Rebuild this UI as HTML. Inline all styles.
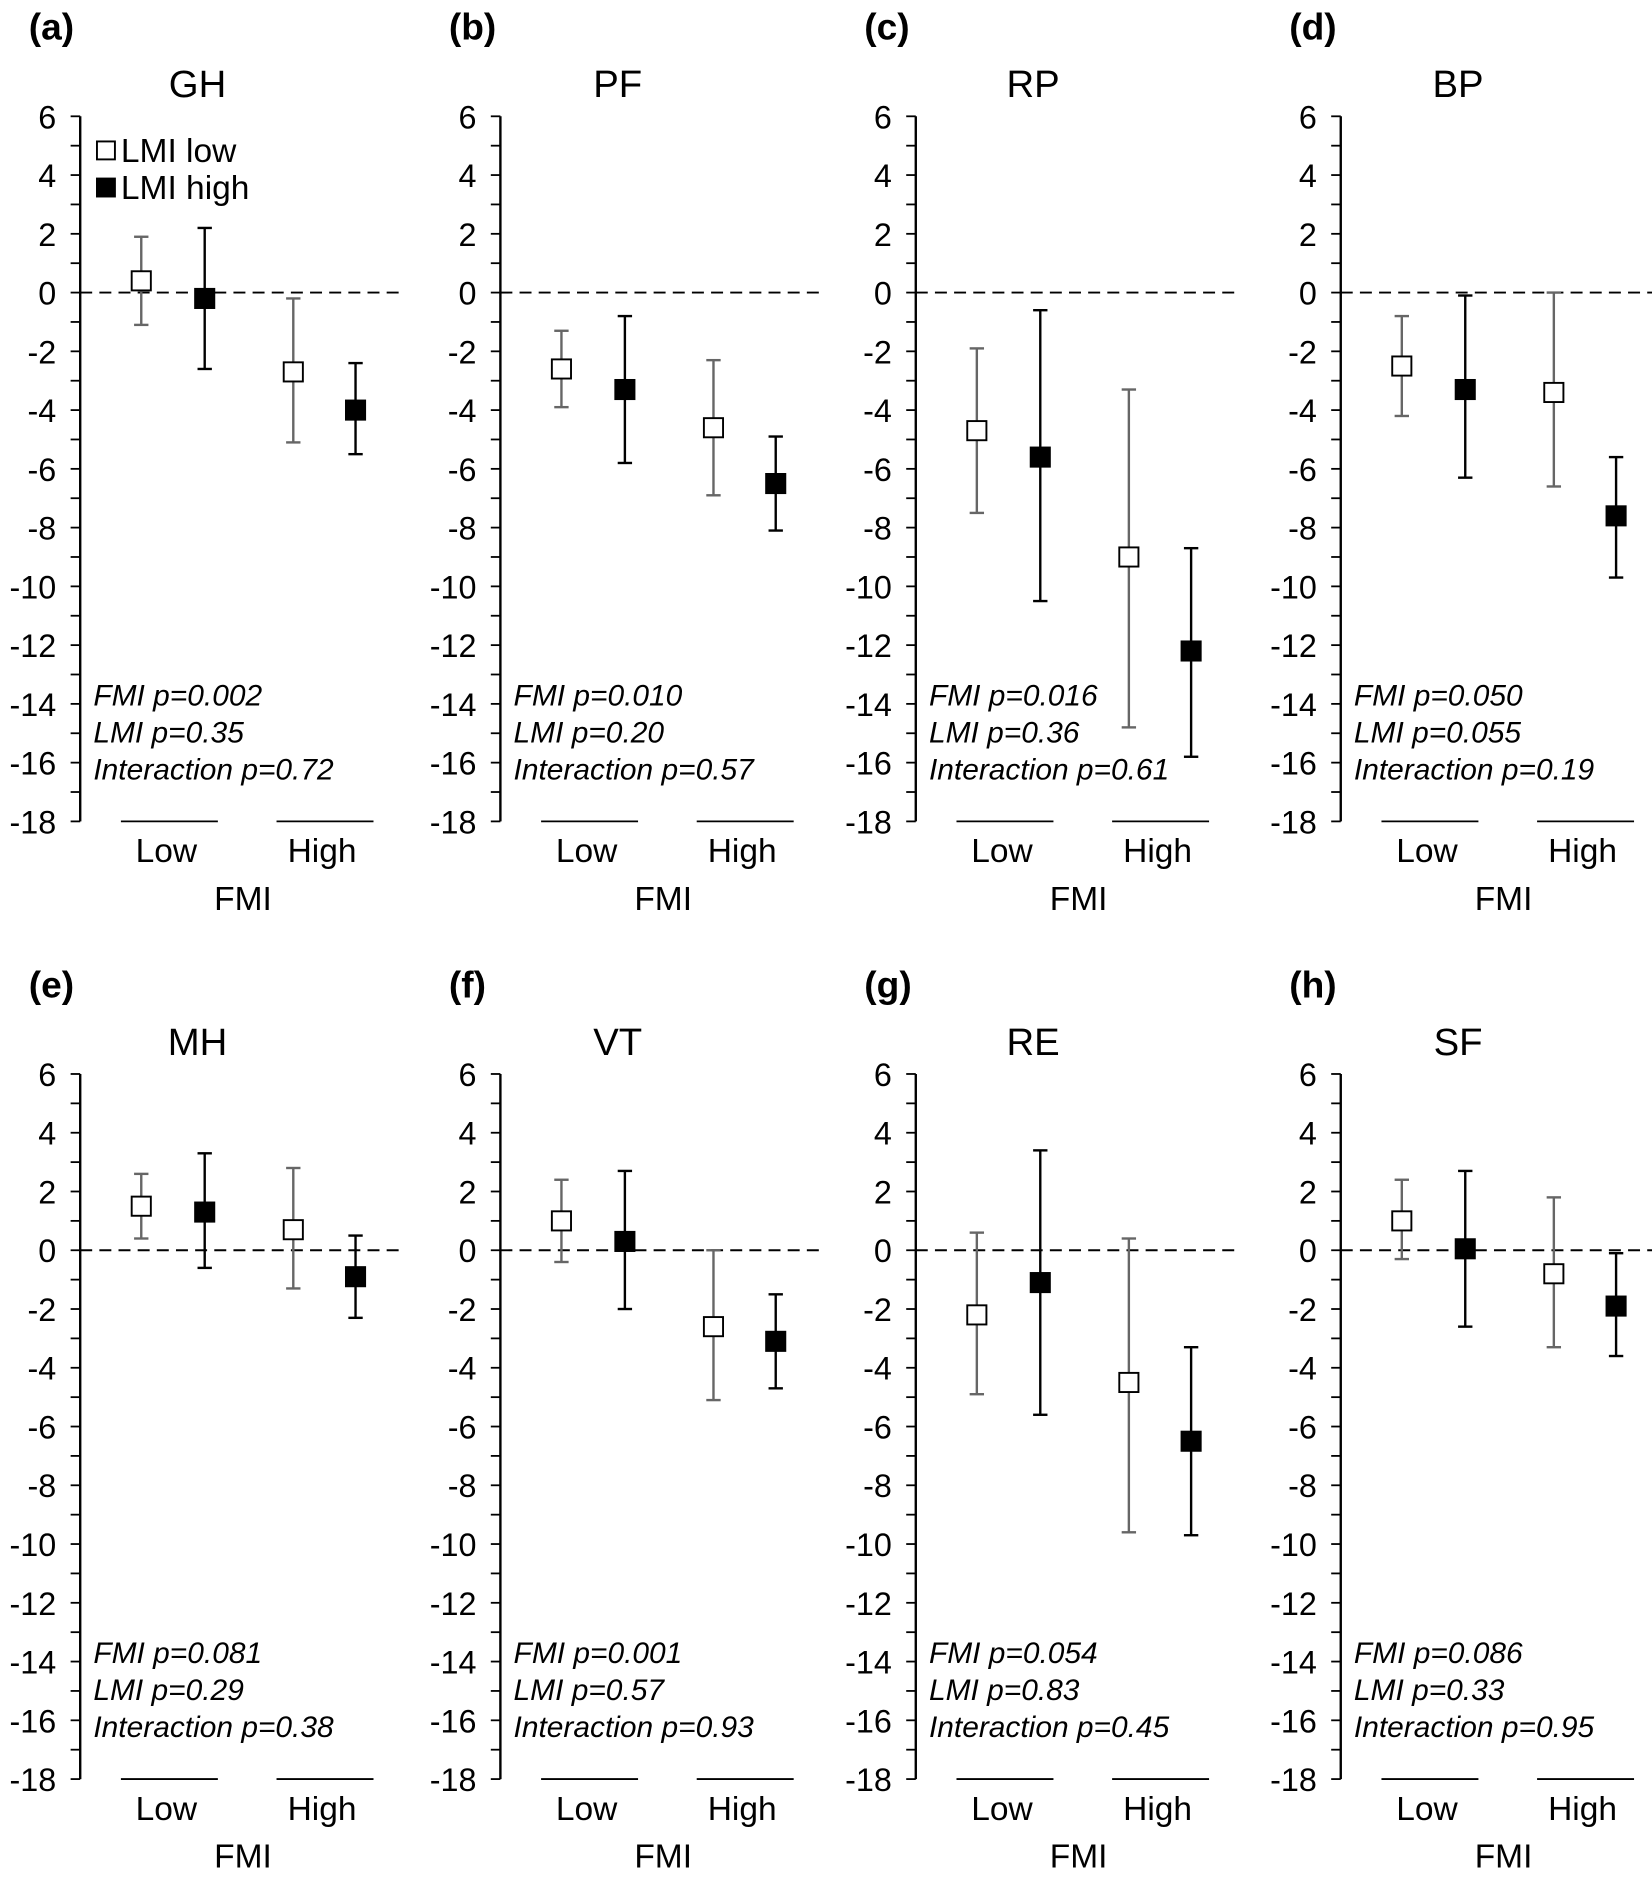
<!DOCTYPE html>
<html><head><meta charset="utf-8"><style>
html,body{margin:0;padding:0;background:#fff}
svg{display:block}
text{font-family:"Liberation Sans",Arial,sans-serif;fill:#000}
</style></head><body>
<svg id="fig" width="1652" height="1887" viewBox="0 0 1380 1576" xmlns="http://www.w3.org/2000/svg"></svg>
<script>
const panelLetters = ["(a)","(b)","(c)","(d)","(e)","(f)","(g)","(h)"];
const panelTitles = ["GH","PF","RP","BP","MH","VT","RE","SF"];
const yTicks = [6,4,2,0,-2,-4,-6,-8,-10,-12,-14,-16,-18];
const categories = ["Low","High"];
// per panel: [LowFMI-LMIlow, LowFMI-LMIhigh, HighFMI-LMIlow, HighFMI-LMIhigh]
const means = [
 [0.4,-0.2,-2.7,-4.0],[-2.6,-3.3,-4.6,-6.5],[-4.7,-5.6,-9.0,-12.2],[-2.5,-3.3,-3.4,-7.6],
 [1.5,1.3,0.7,-0.9],[1.0,0.3,-2.6,-3.1],[-2.2,-1.1,-4.5,-6.5],[1.0,0.05,-0.8,-1.9]];
const lower = [
 [-1.1,-2.6,-5.1,-5.5],[-3.9,-5.8,-6.9,-8.1],[-7.5,-10.5,-14.8,-15.8],[-4.2,-6.3,-6.6,-9.7],
 [0.4,-0.6,-1.3,-2.3],[-0.4,-2.0,-5.1,-4.7],[-4.9,-5.6,-9.6,-9.7],[-0.3,-2.6,-3.3,-3.6]];
const upper = [
 [1.9,2.2,-0.2,-2.4],[-1.3,-0.8,-2.3,-4.9],[-1.9,-0.6,-3.3,-8.7],[-0.8,-0.1,0.0,-5.6],
 [2.6,3.3,2.8,0.5],[2.4,2.7,0.0,-1.5],[0.6,3.4,0.4,-3.3],[2.4,2.7,1.8,-0.1]];
const statFMI = ["FMI p=0.002","FMI p=0.010","FMI p=0.016","FMI p=0.050","FMI p=0.081","FMI p=0.001","FMI p=0.054","FMI p=0.086"];
const statLMI = ["LMI p=0.35","LMI p=0.20","LMI p=0.36","LMI p=0.055","LMI p=0.29","LMI p=0.57","LMI p=0.83","LMI p=0.33"];
const statInt = ["Interaction p=0.72","Interaction p=0.57","Interaction p=0.61","Interaction p=0.19","Interaction p=0.38","Interaction p=0.93","Interaction p=0.45","Interaction p=0.95"];

const NS="http://www.w3.org/2000/svg";
const svg=document.getElementById('fig');
function mk(tag,attrs,parent,txt){const e=document.createElementNS(NS,tag);for(const k in attrs)e.setAttribute(k,attrs[k]);if(txt!==undefined)e.textContent=txt;(parent||svg).appendChild(e);return e;}
const axisX=[67,418,765,1120];
const topY=[97,897];
const unit=(686-97)/24;
const xOff=[51,104,178,230];
for(let p=0;p<8;p++){
  const ax=axisX[p%4], ty=topY[Math.floor(p/4)];
  const y=v=>ty+(6-v)*unit;
  const g=mk('g',{});
  
  
  const pl=mk('text',{x:ax-43,y:ty-64,'font-size':31,'font-weight':'bold'},g,panelLetters[p]);
  
  const tt=mk('text',{x:ax+98,y:ty-16,'font-size':32,'text-anchor':'middle'},g,panelTitles[p]);
  
  const axl=mk('line',{x1:ax,y1:y(6),x2:ax,y2:y(-18),stroke:'#000','stroke-width':2},g);
  
  for(let v=6;v>=-18;v--){mk('line',{x1:ax-8,y1:y(v),x2:ax,y2:y(v),stroke:'#000','stroke-width':1.5},g);}
  yTicks.forEach(v=>{const t=mk('text',{x:ax-20,y:y(v)+10,'font-size':27,'text-anchor':'end'},g,String(v));
    });
  const z=mk('line',{x1:ax,y1:y(0),x2:ax+270,y2:y(0),stroke:'#000','stroke-width':1.6,'stroke-dasharray':'10,6'},g);
  
  categories.forEach((c,i)=>{
    const x0=ax+(i?164:34);
    mk('line',{x1:x0,y1:y(-18),x2:x0+81,y2:y(-18),stroke:'#000','stroke-width':1.5},g);
    const t=mk('text',{x:x0+38,y:y(-18)+34,'font-size':28,'text-anchor':'middle'},g,c);
    
  });
  const fx=mk('text',{x:ax+136,y:y(-18)+74,'font-size':28,'text-anchor':'middle'},g,'FMI');
  
  [statFMI[p],statLMI[p],statInt[p]].forEach((s,i)=>{
    const t=mk('text',{x:ax+11,y:ty+492+i*31,'font-size':25,'font-style':'italic'},g,s);
    
  });
  for(let k=0;k<4;k++){
    const cx=ax+xOff[k], hi=k%2===1, col=hi?'#000':'#666';
    mk('line',{x1:cx,y1:y(upper[p][k]),x2:cx,y2:y(lower[p][k]),stroke:col,'stroke-width':2},g);
    mk('line',{x1:cx-6,y1:y(upper[p][k]),x2:cx+6,y2:y(upper[p][k]),stroke:col,'stroke-width':2},g);
    mk('line',{x1:cx-6,y1:y(lower[p][k]),x2:cx+6,y2:y(lower[p][k]),stroke:col,'stroke-width':2},g);
    const r=mk('rect',{x:cx-8,y:y(means[p][k])-8,width:16,height:16,fill:hi?'#000':'#fff',stroke:'#000','stroke-width':1.6},g);
    
    
  }
  if(p===0){
    const lg=mk('g',{},g);
    
    mk('rect',{x:81,y:118,width:15,height:15,fill:'#fff',stroke:'#000','stroke-width':1.6},lg);
    mk('text',{x:101,y:135,'font-size':28},lg,'LMI low');
    mk('rect',{x:81,y:149,width:15,height:15,fill:'#000',stroke:'#000','stroke-width':1.6},lg);
    mk('text',{x:101,y:166,'font-size':28},lg,'LMI high');
  }
}
</script>
</body></html>
